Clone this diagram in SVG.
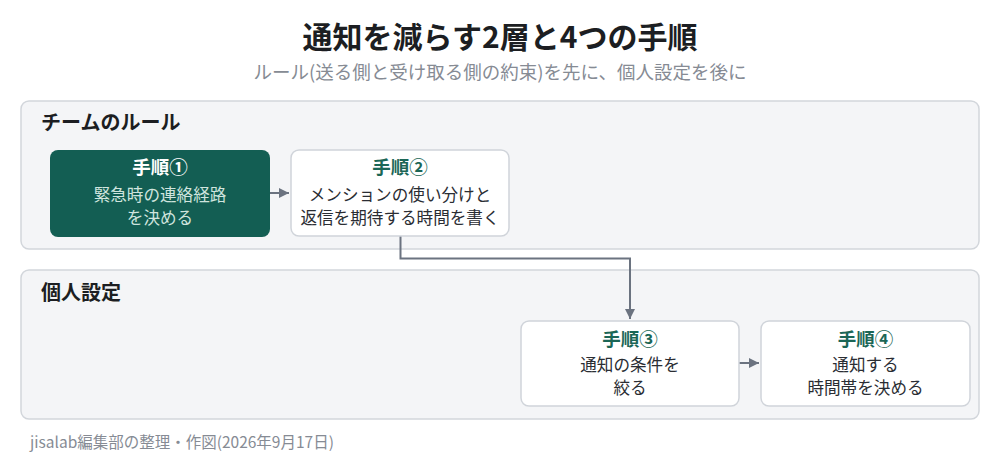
<svg xmlns="http://www.w3.org/2000/svg" width="1000" height="470" viewBox="0 0 1000 470">
<defs>
<style>
text{font-family:"Noto Sans CJK JP","Noto Sans",sans-serif;}
.title{font-size:30px;font-weight:700;fill:#1c1e22;}
.sub{font-size:18.5px;fill:#868b94;}
.panel{fill:#f4f5f7;stroke:#d2d6db;stroke-width:1.5;}
.plabel{font-size:20px;font-weight:700;fill:#1c1e22;}
.node{fill:#ffffff;stroke:#d0d4da;stroke-width:1.5;}
.dark{fill:#135e53;}
.nt{font-size:18.5px;font-weight:700;fill:#1b6656;text-anchor:middle;}
.ntw{font-size:18.5px;font-weight:700;fill:#ffffff;text-anchor:middle;}
.nb{font-size:16.6px;fill:#2a2d33;text-anchor:middle;}
.nbw{font-size:16.6px;fill:#cfe4de;text-anchor:middle;}
.edge{fill:none;stroke:#6b7380;stroke-width:2;}
.foot{font-size:15.5px;fill:#868b94;}
</style>
<marker id="ah" viewBox="0 0 10 10" refX="10" refY="5" markerWidth="5" markerHeight="5" orient="auto" markerUnits="strokeWidth">
<path d="M0,0 L10,5 L0,10 Z" fill="#6b7380"/>
</marker>
</defs>
<rect width="1000" height="470" fill="#ffffff"/>
<text class="title" x="500" y="48" text-anchor="middle">通知を減らす2層と4つの手順</text>
<text class="sub" x="500" y="79" text-anchor="middle">ルール(送る側と受け取る側の約束)を先に、個人設定を後に</text>
<g id="panel-team">
<rect class="panel" x="21" y="101" width="958" height="148" rx="8"/>
<text class="plabel" x="41" y="130">チームのルール</text>
</g>
<g id="panel-personal">
<rect class="panel" x="21" y="270" width="958" height="149" rx="8"/>
<text class="plabel" x="41" y="300">個人設定</text>
</g>
<g id="connectors">
<line class="edge" x1="270" y1="193" x2="289" y2="193" marker-end="url(#ah)"/>
<path class="edge" d="M400.5,236 V258.5 H630 V319" marker-end="url(#ah)"/>
<line class="edge" x1="739" y1="363" x2="759" y2="363" marker-end="url(#ah)"/>
</g>
<g id="step1">
<rect class="dark" x="50" y="150" width="220" height="87" rx="8"/>
<text class="ntw" x="160" y="174">手順①</text>
<text class="nbw" x="160" y="201">緊急時の連絡経路</text>
<text class="nbw" x="160" y="223.5">を決める</text>
</g>
<g id="step2">
<rect class="node" x="291" y="150" width="218" height="86" rx="8"/>
<text class="nt" x="400" y="174">手順②</text>
<text class="nb" x="400" y="201">メンションの使い分けと</text>
<text class="nb" x="400" y="223.5">返信を期待する時間を書く</text>
</g>
<g id="step3">
<rect class="node" x="521" y="321" width="218" height="85" rx="8"/>
<text class="nt" x="630" y="346">手順③</text>
<text class="nb" x="630" y="371">通知の条件を</text>
<text class="nb" x="630" y="393.5">絞る</text>
</g>
<g id="step4">
<rect class="node" x="761" y="321" width="209" height="85" rx="8"/>
<text class="nt" x="865.5" y="346">手順④</text>
<text class="nb" x="865.5" y="371">通知する</text>
<text class="nb" x="865.5" y="393.5">時間帯を決める</text>
</g>
<text class="foot" x="30" y="448">jisalab編集部の整理・作図(2026年9月17日)</text>
</svg>
